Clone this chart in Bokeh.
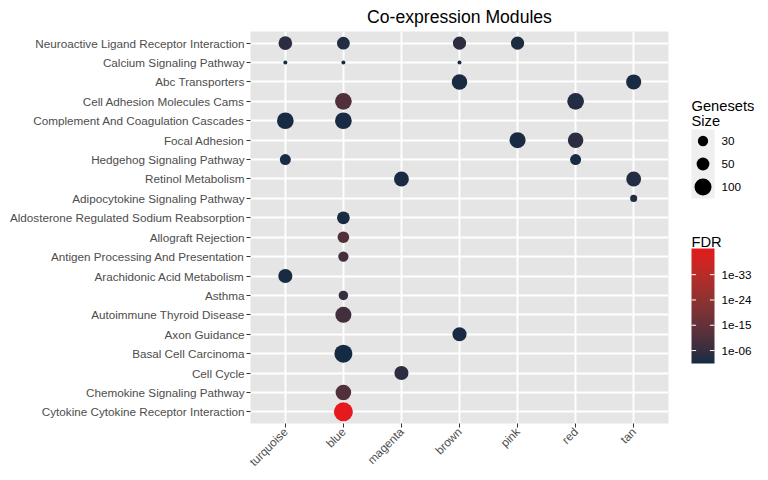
import math
import numpy as np
from bokeh.plotting import figure
from bokeh.models import FactorRange, ColumnDataSource, LinearColorMapper, Range1d
from bokeh.layouts import row
from bokeh.transform import transform
from bokeh.core.properties import value
from bokeh.embed import file_html
from bokeh.resources import INLINE

# ---------------- data ----------------
modules = ["turquoise", "blue", "magenta", "brown", "pink", "red", "tan"]

pathways = [  # top to bottom as displayed
    "Neuroactive Ligand Receptor Interaction",
    "Calcium Signaling Pathway",
    "Abc Transporters",
    "Cell Adhesion Molecules Cams",
    "Complement And Coagulation Cascades",
    "Focal Adhesion",
    "Hedgehog Signaling Pathway",
    "Retinol Metabolism",
    "Adipocytokine Signaling Pathway",
    "Aldosterone Regulated Sodium Reabsorption",
    "Allograft Rejection",
    "Antigen Processing And Presentation",
    "Arachidonic Acid Metabolism",
    "Asthma",
    "Autoimmune Thyroid Disease",
    "Axon Guidance",
    "Basal Cell Carcinoma",
    "Cell Cycle",
    "Chemokine Signaling Pathway",
    "Cytokine Cytokine Receptor Interaction",
]

pt_pathway = [
    "Neuroactive Ligand Receptor Interaction", "Neuroactive Ligand Receptor Interaction",
    "Neuroactive Ligand Receptor Interaction", "Neuroactive Ligand Receptor Interaction",
    "Calcium Signaling Pathway", "Calcium Signaling Pathway", "Calcium Signaling Pathway",
    "Abc Transporters", "Abc Transporters",
    "Cell Adhesion Molecules Cams", "Cell Adhesion Molecules Cams",
    "Complement And Coagulation Cascades", "Complement And Coagulation Cascades",
    "Focal Adhesion", "Focal Adhesion",
    "Hedgehog Signaling Pathway", "Hedgehog Signaling Pathway",
    "Retinol Metabolism", "Retinol Metabolism",
    "Adipocytokine Signaling Pathway",
    "Aldosterone Regulated Sodium Reabsorption",
    "Allograft Rejection",
    "Antigen Processing And Presentation",
    "Arachidonic Acid Metabolism",
    "Asthma",
    "Autoimmune Thyroid Disease",
    "Axon Guidance",
    "Basal Cell Carcinoma",
    "Cell Cycle",
    "Chemokine Signaling Pathway",
    "Cytokine Cytokine Receptor Interaction",
]
pt_module = [
    "turquoise", "blue", "brown", "pink",
    "turquoise", "blue", "brown",
    "brown", "tan",
    "blue", "red",
    "turquoise", "blue",
    "pink", "red",
    "turquoise", "red",
    "magenta", "tan",
    "tan",
    "blue",
    "blue",
    "blue",
    "turquoise",
    "blue",
    "blue",
    "brown",
    "blue",
    "magenta",
    "blue",
    "blue",
]
pt_size = [
    58, 50, 54, 54,
    9, 9, 9,
    80, 75,
    95, 95,
    95, 95,
    87, 80,
    35, 35,
    72, 72,
    14,
    50,
    40,
    30,
    64,
    25,
    87,
    64,
    114,
    64,
    80,
    129,
]
pt_fdr = [
    2e-5, 1e-3, 2e-5, 3e-3,
    1e-2, 1e-2, 1e-2,
    1e-2, 1e-2,
    1e-11, 1e-3,
    1e-2, 1e-2,
    1e-2, 3e-5,
    1e-2, 1e-2,
    1e-2, 1e-3,
    1e-3,
    1e-2,
    1e-11,
    1e-8,
    1e-2,
    1e-6,
    1e-8,
    1e-2,
    4e-2,
    2e-5,
    1e-11,
    5e-43,
]

size_breaks = [30, 50, 100]
fdr_breaks = [6, 15, 24, 33]          # -log10(FDR)
fdr_break_labels = ["1e-06", "1e-15", "1e-24", "1e-33"]

# ---------------- scales ----------------
FONT = "Liberation Sans"
LOW, HIGH = "#132B43", "#E41A1C"


def _hex2rgb(h):
    h = h.lstrip("#")
    return np.array([int(h[i:i + 2], 16) for i in (0, 2, 4)]) / 255.0


def _rgb2lab(c):
    c = np.where(c > 0.04045, ((c + 0.055) / 1.055) ** 2.4, c / 12.92)
    M = np.array([[0.4124, 0.3576, 0.1805], [0.2126, 0.7152, 0.0722], [0.0193, 0.1192, 0.9505]])
    xyz = M @ c / np.array([0.95047, 1.0, 1.08883])
    f = np.where(xyz > 0.008856, np.cbrt(xyz), 7.787 * xyz + 16 / 116)
    return np.array([116 * f[1] - 16, 500 * (f[0] - f[1]), 200 * (f[1] - f[2])])


def _lab2hex(lab):
    L, a, b = lab
    fy = (L + 16) / 116
    fx = fy + a / 500
    fz = fy - b / 200
    f = np.array([fx, fy, fz])
    xyz = np.where(f ** 3 > 0.008856, f ** 3, (f - 16 / 116) / 7.787) * np.array([0.95047, 1.0, 1.08883])
    Mi = np.array([[3.2406, -1.5372, -0.4986], [-0.9689, 1.8758, 0.0415], [0.0557, -0.2040, 1.0570]])
    c = Mi @ xyz
    c = np.where(c > 0.0031308, 1.055 * np.clip(c, 0, None) ** (1 / 2.4) - 0.055, 12.92 * c)
    c = np.clip(np.round(c * 255), 0, 255).astype(int)
    return "#%02x%02x%02x" % tuple(c)


lab_lo, lab_hi = _rgb2lab(_hex2rgb(LOW)), _rgb2lab(_hex2rgb(HIGH))
palette = [_lab2hex(lab_lo + t * (lab_hi - lab_lo)) for t in np.linspace(0, 1, 256)]

neglog = [-math.log10(f) for f in pt_fdr]
vmin, vmax = min(neglog), max(neglog)
mapper = LinearColorMapper(palette=palette, low=vmin, high=vmax)

smin, smax = min(pt_size), max(pt_size)
DMIN, DMAX = 4.0, 19.0


def diam(s):
    return DMIN + (DMAX - DMIN) * math.sqrt(max(s - smin, 0) / (smax - smin))


src = ColumnDataSource(dict(
    pathway=pt_pathway, module=pt_module, size=pt_size,
    neglog=neglog, d=[diam(s) for s in pt_size],
))

# ---------------- layout constants ----------------
FR_TOP, FR_H, FR_BOT_B = 31, 392, 49

# ---------------- main plot ----------------
p = figure(
    x_range=FactorRange(*modules, range_padding=0.2 / len(modules)),
    y_range=FactorRange(*pathways[::-1], range_padding=0.2 / len(pathways)),
    frame_width=418, frame_height=FR_H,
    min_border_left=250, min_border_right=12, min_border_top=FR_TOP, min_border_bottom=FR_BOT_B,
    output_backend="svg", toolbar_location=None,
    title="Co-expression Modules",
)
p.title.text_font = FONT
p.title.text_font_size = "17.6px"
p.title.text_font_style = "normal"
p.title.text_color = "black"
p.title.align = "center"
p.title.standoff = 9

p.background_fill_color = "#E5E5E5"
p.border_fill_color = "white"
p.outline_line_color = None
p.grid.grid_line_color = "white"
p.grid.grid_line_width = 1.9

for ax in (p.xaxis[0], p.yaxis[0]):
    ax.axis_line_color = None
    ax.major_tick_line_color = "#333333"
    ax.major_tick_in = 0
    ax.major_tick_out = 4
    ax.minor_tick_line_color = None
    ax.major_label_text_font = FONT
    ax.major_label_text_font_size = "11.7px"
    ax.major_label_text_color = "#4D4D4D"
    ax.major_label_standoff = 2
p.xaxis.major_label_orientation = math.pi / 4

p.scatter(x="module", y="pathway", size="d", source=src,
          fill_color=transform("neglog", mapper), line_color=None)

# ---------------- legend panel (frame aligned with main frame) ----------------
LG_X0, LG_W = 680, 80
lg = figure(frame_width=LG_W, frame_height=FR_H,
            x_range=Range1d(LG_X0, LG_X0 + LG_W), y_range=Range1d(-(FR_TOP + FR_H), -FR_TOP),
            min_border_left=0, min_border_right=0, min_border_top=FR_TOP, min_border_bottom=FR_BOT_B,
            output_backend="svg", toolbar_location=None, title=None,
            x_axis_location=None, y_axis_location=None)
lg.outline_line_color = None
lg.background_fill_color = "white"
lg.border_fill_color = "white"
lg.grid.visible = False


def Y(py):
    return -py


lg.text(x=[691, 691], y=[Y(105), Y(120)], text=["Genesets", "Size"],
        text_font=value(FONT), text_font_size="14.7px", text_baseline="alphabetic",
        text_align="left", text_color="black")

key_top, key_h = 129, 23
key_cy = [key_top + key_h * (i + 0.5) for i in range(len(size_breaks))]
lg.quad(left=691, right=714, top=Y(key_top), bottom=Y(key_top + key_h * len(size_breaks)),
        fill_color="#EFEFEF", line_color=None)
lg.scatter(x=[702.5] * len(size_breaks), y=[Y(c) for c in key_cy],
           size=[diam(s) for s in size_breaks], fill_color="black", line_color=None)
lg.text(x=[721] * len(size_breaks), y=[Y(c) for c in key_cy], text=[str(s) for s in size_breaks],
        text_font=value(FONT), text_font_size="11.7px", text_baseline="middle", text_color="black")

lg.text(x=[691], y=[Y(241)], text=["FDR"], text_font=value(FONT), text_font_size="14.7px",
        text_baseline="alphabetic", text_color="black")

bar_top, bar_bot, bar_l, bar_r = 248, 363, 691, 714
ramp = np.linspace(vmin, vmax, 256).reshape(-1, 1)
lg.image(image=[ramp], x=bar_l, y=Y(bar_bot), dw=bar_r - bar_l, dh=bar_bot - bar_top,
         color_mapper=mapper)


def bar_y(v):
    return Y(bar_bot) + (v - vmin) / (vmax - vmin) * (bar_bot - bar_top)


ty = [bar_y(v) for v in fdr_breaks]
lg.segment(x0=[bar_l] * 4, x1=[bar_l + 4.6] * 4, y0=ty, y1=ty, line_color="white", line_width=1)
lg.segment(x0=[bar_r - 4.6] * 4, x1=[bar_r] * 4, y0=ty, y1=ty, line_color="white", line_width=1)
lg.text(x=[721] * 4, y=ty, text=fdr_break_labels, text_font=value(FONT), text_font_size="11.7px",
        text_baseline="middle", text_color="black")

layout = row(p, lg)
open("out.html", "w").write(file_html(layout, INLINE))
